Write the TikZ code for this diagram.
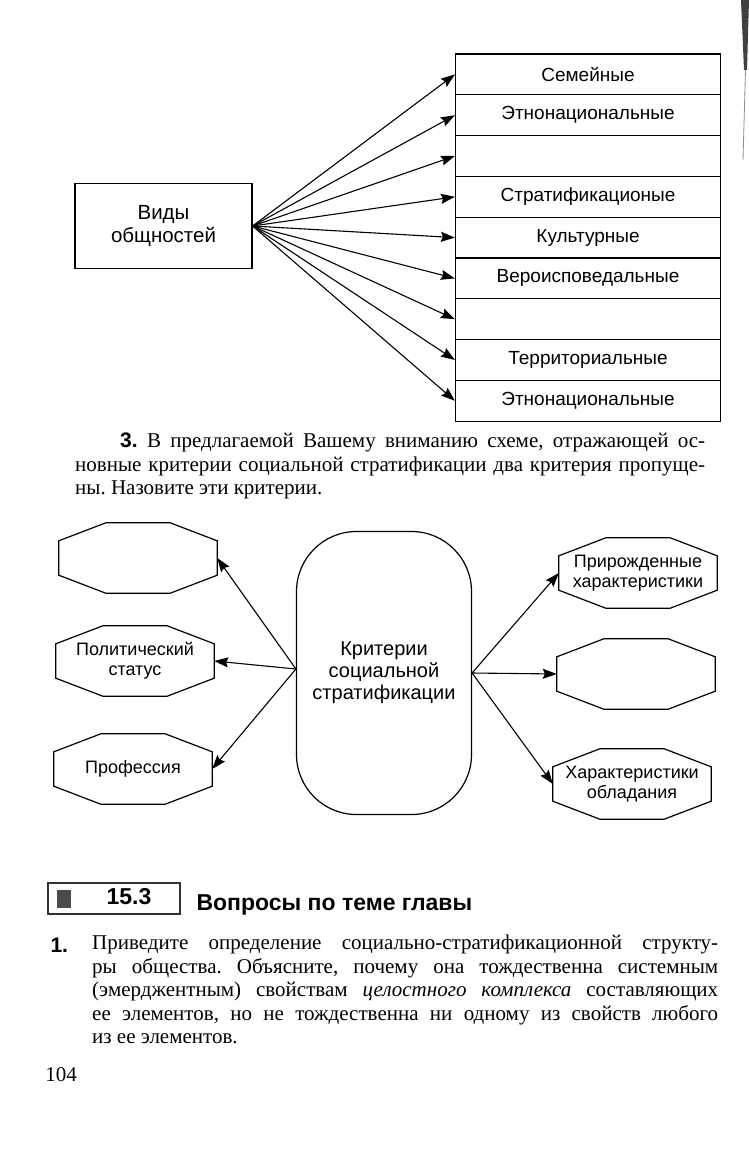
\documentclass[tikz,border=0pt]{standalone}
\usepackage{fontspec}
\setmainfont{Liberation Serif}
\setsansfont{Liberation Sans}
\usetikzlibrary{arrows.meta,calc}

\begin{document}
\begin{tikzpicture}[x=1pt,y=-1pt,
    lbl/.style={font=\sffamily\fontsize{19}{22}\selectfont, align=center},
    big/.style={font=\sffamily\fontsize{20.5}{23}\selectfont},
    box/.style={lbl, draw, line width=1.2pt, inner sep=0pt},
    row/.style={box, minimum width=265pt, minimum height=40.8pt},
    oct/.style={lbl, font=\sffamily\fontsize{18}{20}\selectfont, inner sep=0pt, minimum width=158pt, minimum height=70pt},
    arr/.style={line width=1.1pt, -{Stealth[length=14pt,width=10pt,inset=2pt]}},
    body/.style={font=\fontsize{21}{23.5}\selectfont\frenchspacing, text width=#1, align=justify, inner sep=0pt, anchor=north west}]

    \fill[white] (0,0) rectangle (749,1156);
    \useasboundingbox (0,0) rectangle (749,1156);
    % scan edge
    \fill[black!75] (741,0) -- (749,0) -- (747,70) -- (744,70) -- cycle;
    \draw[black!45, line width=0.8pt] (745.5,70) -- (743,160);

    % first scheme
    \node[box, big, minimum width=177pt, minimum height=85pt] (vidy) at (163.5,226) {Виды\\общностей};
    \foreach \t [count=\i] in {Семейные,Этнонациональные,{},Стратификационые,Культурные,Вероисповедальные,{},Территориальные,Этнонациональные}
        \node[row] (r\i) at (588,{54+40.8*\i-20.4}) {\t};
    \foreach \i in {1,...,9}
        \draw[arr] (vidy.east) -- (r\i.west);

    \node[body=630pt] (task3) at (75,433) {\noindent\hspace*{45pt}{\sffamily\bfseries 3.} В~предлагаемой Вашему вниманию схеме, отражающей ос-\linebreak новные критерии социальной стратификации два критерия пропуще-\linebreak ны. Назовите эти критерии.};

    % second scheme
    \node[box, big, font=\sffamily\fontsize{20}{22}\selectfont, rounded corners=60pt, minimum width=175pt, minimum height=283pt] (crit) at (384,673) {Критерии\\социальной\\стратификации};
    \node[oct] (ol1) at (138,558) {};
    \node[oct] (ol2) at (135,661) {Политический\\статус};
    \node[oct] (ol3) at (133,769) {Профессия};
    \node[oct] (or1) at (638,573) {Прирожденные\\характеристики};
    \node[oct] (or2) at (636,674) {};
    \node[oct] (or3) at (632,784) {Характеристики\\обладания};
    \foreach \n in {ol1,ol2,ol3,or1,or2,or3}
        \draw[line width=1.2pt] ($(\n.north west)+(47,0)$) -- ($(\n.north east)+(-47,0)$) -- ($(\n.north east)+(0,18)$) -- ($(\n.south east)+(0,-18)$) -- ($(\n.south east)+(-47,0)$) -- ($(\n.south west)+(47,0)$) -- ($(\n.south west)+(0,-18)$) -- ($(\n.north west)+(0,18)$) -- cycle;
    \foreach \n in {ol1,ol2,ol3}
        \draw[arr] ([yshift=4pt]crit.west) -- (\n.east);
    \foreach \n in {or1,or2,or3}
        \draw[arr] (crit.east) -- (\n.west);

    % section heading
    \node[draw=black!80, line width=1.5pt, minimum width=132pt, minimum height=31pt, inner sep=0pt] (hdr) at (114,898.5) {};
    \fill[black!70] (57,890) rectangle (71,908);
    \node[font=\sffamily\bfseries\fontsize{23}{26}\selectfont] (num) at (129,897) {15.3};
    \node[font=\sffamily\bfseries\fontsize{23}{26}\selectfont, anchor=west] (title) at (193,905) {Вопросы по теме главы};

    \node[font=\sffamily\bfseries\fontsize{21}{24}\selectfont, anchor=west] (n1) at (47,945) {1.};
    \node[body=626pt] (q1) at (92,935) {\noindent Приведите определение социально-стратификационной структу-\linebreak ры общества. Объясните, почему она тождественна системным\linebreak (эмерджентным) свойствам \textit{целостного комплекса} составляющих\linebreak ее элементов, но не тождественна ни одному из свойств любого\linebreak из ее элементов.};
    \node[font=\fontsize{21}{24}\selectfont] (page) at (61,1075) {104};
\end{tikzpicture}
\end{document}
